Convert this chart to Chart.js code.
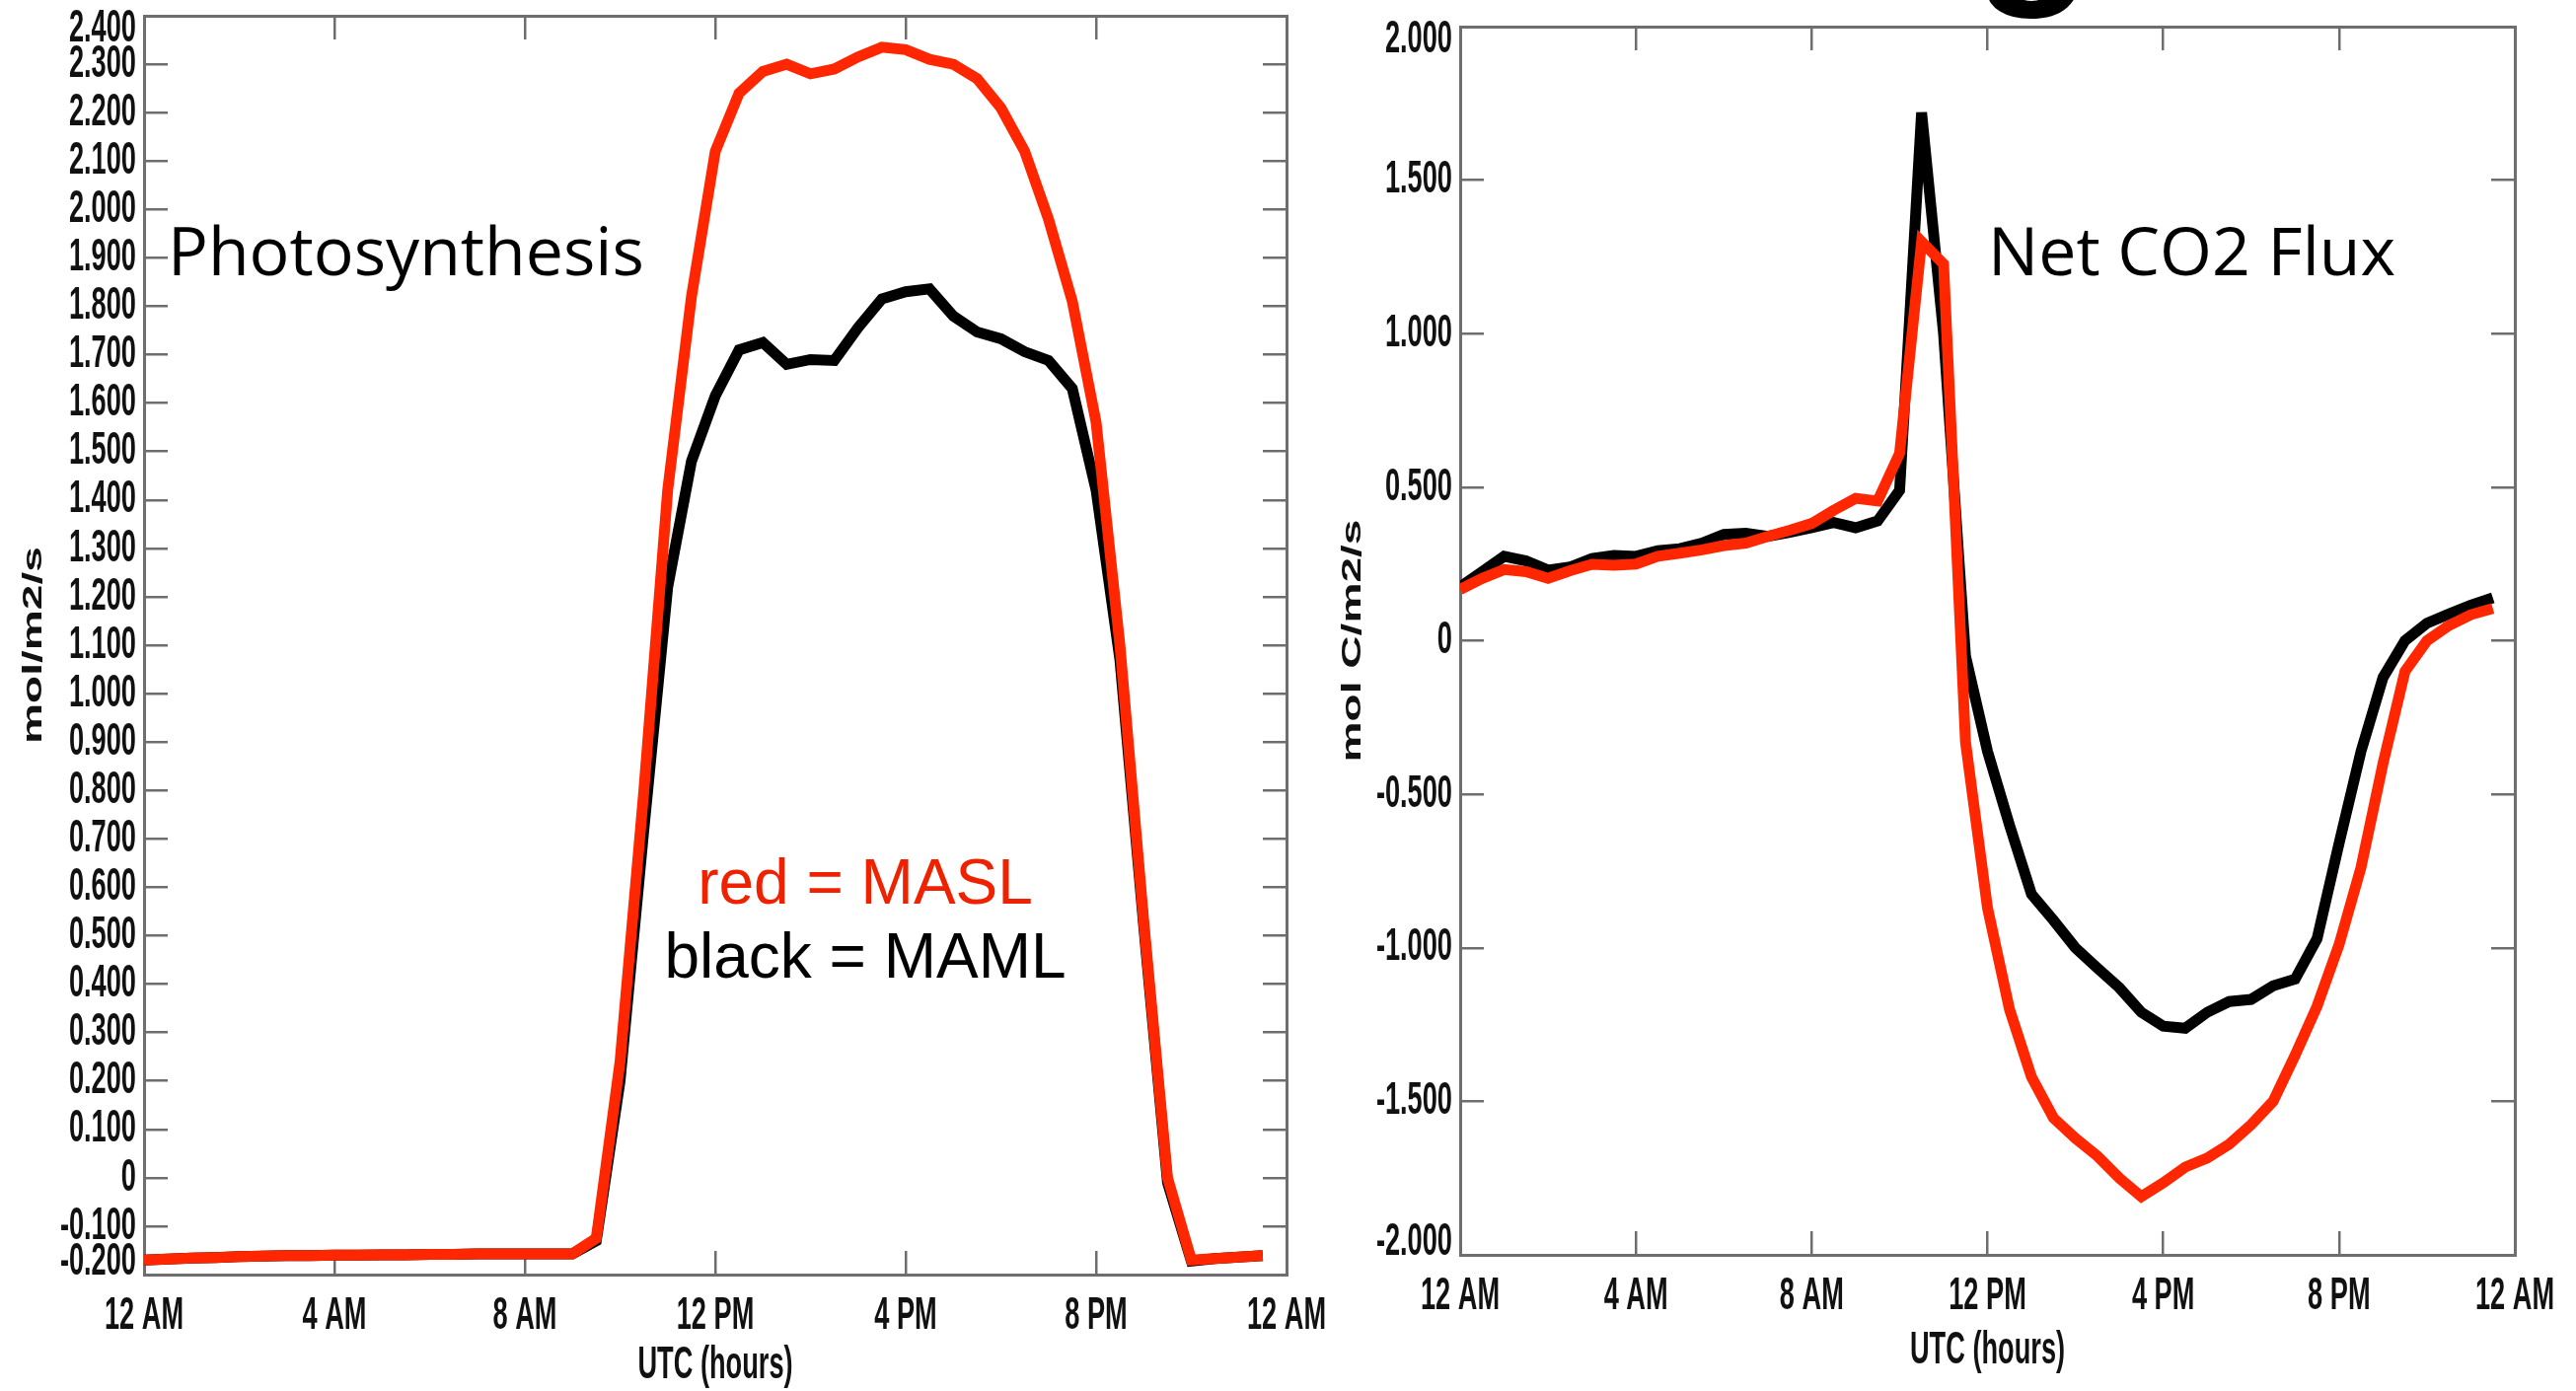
<!DOCTYPE html>
<html>
<head>
<meta charset="utf-8">
<title>Photosynthesis / Net CO2 Flux</title>
<script src="https://cdn.jsdelivr.net/npm/chart.js@4.4.1/dist/chart.umd.min.js"></script>
<style>
  html, body { margin: 0; padding: 0; background: #fff; }
  body { width: 2611px; height: 1410px; position: relative; overflow: hidden; }
  #photoChart { position: absolute; left: 0; top: 0; }
  #fluxChart { position: absolute; left: 1340px; top: 0; }
  /* bottom of a cut-off heading letter above the right panel */
  #cutTitle { position: absolute; left: 2000px; top: -193px; font: bold 200px 'Liberation Sans', Arial, sans-serif; line-height: 200px; color: #000; }
</style>
</head>
<body>
<span id="cutTitle">g</span>
<canvas id="photoChart" width="1400" height="1410"></canvas>
<canvas id="fluxChart" width="1271" height="1410"></canvas>
<script>
// half-hourly values, UTC hours
const hours = [0, 0.5, 1, 1.5, 2, 2.5, 3, 3.5, 4, 4.5, 5, 5.5, 6, 6.5, 7, 7.5, 8, 8.5, 9, 9.5,
  10, 10.5, 11, 11.5, 12, 12.5, 13, 13.5, 14, 14.5, 15, 15.5, 16, 16.5, 17, 17.5, 18, 18.5, 19, 19.5,
  20, 20.5, 21, 21.5, 22, 22.5, 23, 23.5];

// Photosynthesis (mol/m2/s)
const photoMASL = [
  -0.170, -0.168, -0.166, -0.165, -0.163, -0.162, -0.161, -0.161, -0.160, -0.160,
  -0.159, -0.159, -0.158, -0.158, -0.157, -0.157, -0.157, -0.157, -0.157, -0.125,
  0.24, 0.80, 1.42, 1.82, 2.12, 2.24, 2.285, 2.30, 2.28, 2.29,
  2.315, 2.335, 2.33, 2.31, 2.30, 2.27, 2.21, 2.12, 1.98, 1.81,
  1.56, 1.10, 0.53, 0.0, -0.170, -0.167, -0.164, -0.161];
const photoMAML = [
  -0.170, -0.168, -0.166, -0.165, -0.163, -0.162, -0.161, -0.161, -0.160, -0.160,
  -0.159, -0.159, -0.158, -0.158, -0.157, -0.157, -0.157, -0.157, -0.157, -0.130,
  0.20, 0.72, 1.22, 1.48, 1.615, 1.71, 1.725, 1.68, 1.69, 1.688,
  1.756, 1.815, 1.83, 1.836, 1.78, 1.747, 1.733, 1.706, 1.688, 1.63,
  1.42, 1.07, 0.52, -0.01, -0.172, -0.167, -0.164, -0.161];

// Net CO2 flux (mol C/m2/s)
const fluxMASL = [
  0.167, 0.203, 0.232, 0.225, 0.203, 0.228, 0.249, 0.246, 0.250, 0.275,
  0.285, 0.296, 0.310, 0.318, 0.340, 0.360, 0.382, 0.425, 0.464, 0.455,
  0.61, 1.30, 1.227, -0.33, -0.87, -1.20, -1.42, -1.554, -1.62, -1.678,
  -1.75, -1.81, -1.765, -1.714, -1.685, -1.64, -1.576, -1.50, -1.35, -1.19,
  -0.99, -0.738, -0.40, -0.10, 0.0, 0.05, 0.085, 0.105];
const fluxMAML = [
  0.175, 0.225, 0.275, 0.26, 0.23, 0.24, 0.268, 0.278, 0.275, 0.293,
  0.30, 0.318, 0.346, 0.35, 0.34, 0.353, 0.368, 0.385, 0.368, 0.39,
  0.49, 1.72, 1.0, -0.05, -0.36, -0.60, -0.825, -0.91, -1.0, -1.066,
  -1.13, -1.21, -1.255, -1.262, -1.21, -1.175, -1.168, -1.124, -1.102, -0.97,
  -0.66, -0.36, -0.12, 0.0, 0.057, 0.087, 0.116, 0.14];

// tick positions and labels
const xTicks = [0, 4, 8, 12, 16, 20, 24];
const xTickLabels = ['12 AM', '4 AM', '8 AM', '12 PM', '4 PM', '8 PM', '12 AM'];
const photoTicks = [-0.2, -0.1, 0, 0.1, 0.2, 0.3, 0.4, 0.5, 0.6, 0.7, 0.8, 0.9, 1.0, 1.1, 1.2, 1.3,
  1.4, 1.5, 1.6, 1.7, 1.8, 1.9, 2.0, 2.1, 2.2, 2.3, 2.4];
const fluxTicks = [-2.0, -1.5, -1.0, -0.5, 0, 0.5, 1.0, 1.5, 2.0];

const RED = 'rgb(255,38,0)';
const FRAME = '#6e6e6e';
const axisFont = { family: "'Liberation Sans', Arial, sans-serif", size: 34, weight: 'bold' };
// axis text of the original plot is narrow and tall: squeeze x, stretch y (page space)
const SQUASH_X = 0.8, SQUASH_Y = 1.356;
// end labels of a vertical axis are pushed inside the frame by this much
const END_INSET = 13;

// linear scale whose label/title glyphs get the narrow-tall look
class SquashLinearScale extends Chart.LinearScale {
  draw(chartArea) {
    const ctx = this.ctx;
    const scale = this;
    const plainFill = ctx.fillText;
    ctx.fillText = function (text, x, y) {
      const m = this.getTransform();
      const p = m.transformPoint(new DOMPoint(x, y));
      let dy = 0;
      if (!scale.isHorizontal() && m.b === 0) {
        const inside = Math.min(Math.max(p.y, scale.top + END_INSET), scale.bottom - END_INSET);
        dy = inside - p.y;
      }
      this.save();
      this.setTransform(new DOMMatrix().translate(p.x, p.y + dy).scale(SQUASH_X, SQUASH_Y)
        .translate(-p.x, -p.y).multiply(m));
      plainFill.call(this, text, x, y);
      this.restore();
    };
    try {
      super.draw(chartArea);
    } finally {
      delete ctx.fillText;
    }
  }
}
SquashLinearScale.id = 'squashLinear';
SquashLinearScale.defaults = {};
Chart.register(SquashLinearScale);

function toPoints(vals) {
  return hours.map((h, i) => ({ x: h, y: vals[i] }));
}

function fmtY(v) {
  return Math.abs(v) < 1e-9 ? '0' : v.toFixed(3);
}

function noPadding(s) {
  s.paddingTop = 0; s.paddingBottom = 0; s.paddingLeft = 0; s.paddingRight = 0;
}

// text drawn inside the panels
const panelText = {
  id: 'panelText',
  afterDraw(chart, args, opts) {
    const ctx = chart.ctx;
    ctx.save();
    ctx.textBaseline = 'alphabetic';
    opts.items.forEach(t => {
      ctx.font = t.font;
      ctx.fillStyle = t.color;
      ctx.textAlign = t.align;
      ctx.fillText(t.text, t.x, t.y);
    });
    ctx.restore();
  }
};

function makeChart(canvasId, cfg) {
  const tickSet = cfg.yTicks;
  const edge = { display: true, color: FRAME, width: 3 };
  const marks = { drawOnChartArea: false, tickLength: -24, color: FRAME, lineWidth: 2.5 };
  const ymin = tickSet[0], ymax = tickSet[tickSet.length - 1];

  return new Chart(document.getElementById(canvasId), {
    type: 'line',
    data: {
      datasets: [
        { label: 'MASL', data: toPoints(cfg.red), borderColor: RED, borderWidth: 11,
          pointRadius: 0, tension: 0, borderJoinStyle: 'miter', order: 0 },
        { label: 'MAML', data: toPoints(cfg.black), borderColor: '#000', borderWidth: 11,
          pointRadius: 0, tension: 0, borderJoinStyle: 'miter', order: 1 }
      ]
    },
    options: {
      responsive: false,
      devicePixelRatio: 1,
      animation: false,
      layout: { padding: { left: 0, top: cfg.padTop, right: cfg.padRight, bottom: 0 } },
      scales: {
        x: {
          type: 'squashLinear', position: 'bottom', min: 0, max: 24,
          border: edge, grid: marks,
          afterBuildTicks: s => { s.ticks = xTicks.map(v => ({ value: v })); },
          ticks: { autoSkip: false, maxRotation: 0, padding: 46, color: '#111', font: axisFont,
            callback: (v, i) => xTickLabels[i] },
          title: { display: true, text: 'UTC (hours)', color: '#111', font: axisFont,
            padding: { top: 0, bottom: cfg.xTitlePad } },
          afterFit: s => { s.height = cfg.xAxisHeight; noPadding(s); }
        },
        x2: {
          type: 'linear', position: 'top', min: 0, max: 24,
          border: edge, grid: marks,
          afterBuildTicks: s => { s.ticks = xTicks.map(v => ({ value: v })); },
          ticks: { display: false },
          afterFit: s => { s.height = 0; noPadding(s); }
        },
        y: {
          type: 'squashLinear', position: 'left', min: ymin, max: ymax,
          border: edge, grid: marks,
          afterBuildTicks: s => { s.ticks = tickSet.map(v => ({ value: v })); },
          ticks: { autoSkip: false, padding: 32, color: '#111', font: axisFont, callback: fmtY },
          title: { display: true, text: cfg.yTitle, color: '#111', font: axisFont,
            padding: { top: cfg.yTitlePad, bottom: 0 } },
          afterFit: s => { s.width = cfg.yAxisWidth; noPadding(s); }
        },
        y2: {
          type: 'linear', position: 'right', min: ymin, max: ymax,
          border: edge, grid: marks,
          afterBuildTicks: s => { s.ticks = tickSet.map(v => ({ value: v })); },
          ticks: { display: false },
          afterFit: s => { s.width = 0; noPadding(s); }
        }
      },
      plugins: {
        legend: { display: false },
        tooltip: { enabled: false },
        panelText: { items: cfg.texts }
      }
    },
    plugins: [panelText]
  });
}

function drawAll() {
  makeChart('photoChart', {
    red: photoMASL, black: photoMAML, yTicks: photoTicks,
    yTitle: 'mol/m2/s', yAxisWidth: 146, yTitlePad: 14,
    xAxisHeight: 118, xTitlePad: 5, padTop: 16, padRight: 96,
    texts: [
      { text: 'Photosynthesis', x: 170, y: 279, align: 'left', color: '#000', font: "68px 'Open Sans', sans-serif" },
      { text: 'red = MASL', x: 877, y: 916, align: 'center', color: '#ee2200', font: "64px 'Liberation Sans', Arial, sans-serif" },
      { text: 'black = MAML', x: 877, y: 991, align: 'center', color: '#000', font: "64px 'Liberation Sans', Arial, sans-serif" }
    ]
  });

  makeChart('fluxChart', {
    red: fluxMASL, black: fluxMAML, yTicks: fluxTicks,
    yTitle: 'mol C/m2/s', yAxisWidth: 140, yTitlePad: 11,
    xAxisHeight: 138, xTitlePad: 20, padTop: 27, padRight: 62,
    texts: [
      { text: 'Net CO2 Flux', x: 675, y: 279, align: 'left', color: '#000', font: "68px 'Open Sans', sans-serif" }
    ]
  });
}

Promise.all([
  document.fonts.load("bold 34px 'Liberation Sans'"),
  document.fonts.load("68px 'Open Sans'"),
  document.fonts.load("64px 'Liberation Sans'")
]).then(drawAll, drawAll);
</script>
</body>
</html>
